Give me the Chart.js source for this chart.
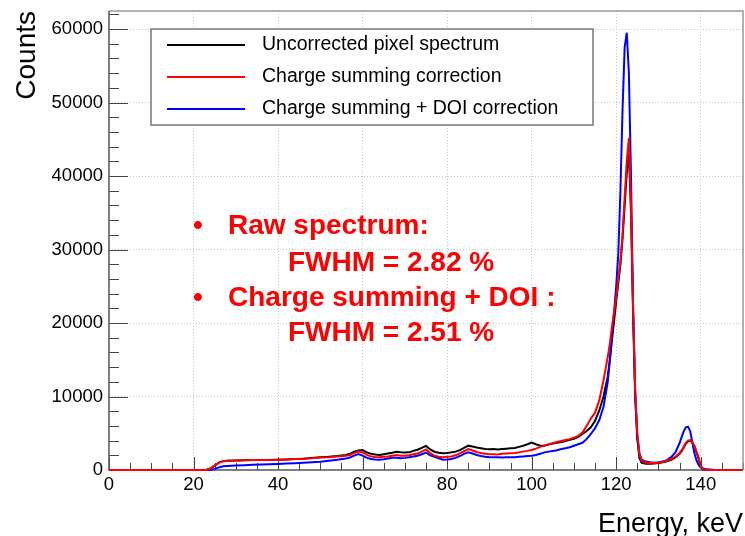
<!DOCTYPE html>
<html>
<head>
<meta charset="utf-8">
<script src="https://cdn.jsdelivr.net/npm/chart.js@4.4.1/dist/chart.umd.min.js"></script>
<style>
  html, body { margin: 0; padding: 0; background: #fff; }
  #wrap { width: 745px; height: 536px; }
</style>
</head>
<body>
<div id="wrap"><canvas id="spectrum" width="745" height="536"></canvas></div>
<script>
/* ---------- data ---------- */
const energy = [
  0, 23, 24, 25, 26, 27, 28, 30, 32, 34,
  36, 38, 40, 42, 44, 46, 48, 50, 52, 54,
  56,
  57, 58, 59, 60, 61, 62, 63, 64, 65, 66,
  67, 68, 69, 70, 71, 72, 73, 74, 75, 76,
  77, 78, 79, 80, 81, 82, 83, 84, 85, 86,
  87, 88, 89, 90, 91, 92, 93, 94, 95, 96,
  97, 98, 99, 100, 101, 102, 103, 104, 105, 106,
  107, 108, 109, 110, 111, 112, 113, 114, 115, 116,
  117,
  118, 118.5, 119, 119.5, 120, 120.5, 121, 121.5, 122, 122.5,
  123, 123.5, 124, 124.5, 125, 125.5, 126,
  127, 128, 129, 130, 131, 132, 133, 134,
  135, 135.5, 136, 136.5, 137, 137.5, 138, 138.5, 139, 139.5,
  140, 140.5, 141,
  142, 143, 145, 150
];

const uncorrected = [
  0, 0, 200, 600, 1000, 1200, 1250, 1300, 1330, 1350,
  1370, 1360, 1380, 1420, 1480, 1530, 1650, 1750, 1800, 1900,
  2050,
  2200, 2500, 2650, 2720, 2400, 2200, 2100, 2050, 2150, 2250,
  2350, 2480, 2400, 2380, 2400, 2600, 2750, 3000, 3270, 2800,
  2490, 2350, 2270, 2300, 2400, 2500, 2700, 3000, 3310, 3200,
  3050, 2950, 2850, 2820, 2850, 2800, 2850, 2900, 2950, 3000,
  3150, 3300, 3500, 3720, 3500, 3300, 3310, 3450, 3600, 3700,
  3800, 3950, 4100, 4250, 4500, 4900, 5300, 5800, 6700, 8100,
  10000,
  12700, 15000, 17700, 20300, 23000, 25500, 28000, 31500, 36000, 40500,
  43100, 35000, 21000, 10000, 4200, 1600, 1000,
  850, 850, 900, 950, 1050, 1200, 1400, 1700,
  2200, 2600, 3100, 3600, 3900, 4000, 3750, 3250, 2400, 1500,
  500, 80, 0,
  0, 0, 0, 0
];

const chargeSumming = [
  0, 0, 200, 600, 1000, 1200, 1250, 1300, 1330, 1350,
  1370, 1360, 1380, 1420, 1480, 1530, 1600, 1700, 1750, 1850,
  1950,
  2050, 2300, 2500, 2380, 2050, 1850, 1780, 1750, 1800, 1850,
  1950, 2050, 1950, 1950, 2000, 2150, 2250, 2500, 2800, 2300,
  1950, 1800, 1730, 1800, 1850, 2000, 2250, 2550, 2850, 2650,
  2450, 2300, 2200, 2130, 2150, 2100, 2200, 2250, 2270, 2300,
  2400, 2500, 2600, 2720, 2900, 3150, 3350, 3500, 3650, 3800,
  3950, 4080, 4200, 4400, 4650, 5100, 6000, 7000, 7800, 9500,
  12200,
  15400, 17200, 19500, 21500, 23500, 26000, 28500, 32000, 37000, 42000,
  45200, 36000, 22000, 11000, 5000, 2200, 1300,
  1000, 950, 950, 1000, 1100, 1250, 1500, 1800,
  2300, 2700, 3200, 3700, 4000, 4080, 3800, 3300, 2500, 1700,
  600, 100, 0,
  0, 0, 0, 0
];

const chargeSummingDoi = [
  0, 0, 0, 150, 350, 500, 560, 620, 660, 700,
  740, 780, 820, 870, 920, 980, 1050, 1130, 1250, 1380,
  1550,
  1700, 1950, 2180, 1950, 1650, 1500, 1420, 1380, 1450, 1550,
  1650, 1650, 1600, 1650, 1730, 1850, 1950, 2150, 2360, 2000,
  1810, 1600, 1400, 1420, 1500, 1650, 1900, 2200, 2400, 2250,
  2050, 1900, 1800, 1730, 1750, 1720, 1700, 1720, 1730, 1750,
  1800, 1850, 1900, 1950, 2050, 2200, 2400, 2500, 2600, 2700,
  2850, 2950, 3100, 3300, 3500, 3700, 4200, 4900, 5700, 6800,
  8600,
  12000, 15000, 18600, 21500, 25000, 29500, 38000, 49000, 57500, 59500,
  54000, 40000, 22000, 10000, 4500, 2200, 1400,
  1150, 1050, 1000, 1050, 1150, 1350, 1750, 2400,
  3670, 4500, 5300, 5800, 5900, 5300, 3800, 2270, 1300, 680,
  350, 200, 150,
  80, 20, 0, 0
];

const seriesLabels = [
  "Uncorrected pixel spectrum",
  "Charge summing correction",
  "Charge summing + DOI correction"
];
const seriesColors = ["#000000", "#ff0000", "#0000ff"];

const xTickValues = [0, 20, 40, 60, 80, 100, 120, 140];
const yTickValues = [0, 10000, 20000, 30000, 40000, 50000, 60000];

const noteLines = [
  { bullet: true,  text: "Raw spectrum:" },
  { bullet: false, text: "FWHM = 2.82 %" },
  { bullet: true,  text: "Charge summing + DOI :" },
  { bullet: false, text: "FWHM = 2.51 %" }
];

/* ---------- helpers ---------- */
const FONT = "'Liberation Sans', Arial, Helvetica, sans-serif";
const toPoints = vals => energy.map((e, i) => ({ x: e, y: vals[i] }));
const hideZero = c => (c.tick && c.tick.value === 0) ? "rgba(0,0,0,0)" : "#c4c4c4";

/* ROOT style frame + inward tick marks (under the curves) */
const rootFrame = {
  id: "rootFrame",
  beforeDatasetsDraw(chart) {
    const { ctx, chartArea: a, scales: { x, y } } = chart;
    ctx.save();
    ctx.lineWidth = 1;
    ctx.strokeStyle = "#444";
    ctx.beginPath();
    for (let v = 0; v <= 150; v += 5) {
      const px = Math.round(x.getPixelForValue(v)) + 0.5;
      const len = v % 20 === 0 ? 13 : 7;
      ctx.moveTo(px, a.bottom);
      ctx.lineTo(px, a.bottom - len);
    }
    for (let v = 0; v <= 62000; v += 2000) {
      const py = Math.round(y.getPixelForValue(v)) + 0.5;
      const len = v % 10000 === 0 ? 19 : 10;
      ctx.moveTo(a.left, py);
      ctx.lineTo(a.left + len, py);
    }
    ctx.stroke();

    ctx.lineWidth = 1.5;
    ctx.strokeStyle = "#999";
    ctx.beginPath();
    ctx.moveTo(a.left, a.top);
    ctx.lineTo(a.right, a.top);
    ctx.lineTo(a.right, a.bottom);
    ctx.stroke();
    ctx.strokeStyle = "#555";
    ctx.beginPath();
    ctx.moveTo(a.left, a.top);
    ctx.lineTo(a.left, a.bottom);
    ctx.lineTo(a.right, a.bottom);
    ctx.stroke();
    ctx.restore();
  }
};

/* boxed legend inside the plot, top left */
const legendBox = {
  id: "legendBox",
  afterDatasetsDraw(chart) {
    const ctx = chart.ctx;
    const box = { left: 151, top: 29, width: 442, height: 96 };
    ctx.save();
    ctx.fillStyle = "#fff";
    ctx.fillRect(box.left, box.top, box.width, box.height);
    ctx.strokeStyle = "#777";
    ctx.lineWidth = 1.5;
    ctx.strokeRect(box.left, box.top, box.width, box.height);
    ctx.font = "19.5px " + FONT;
    ctx.textBaseline = "middle";
    chart.data.datasets.forEach((ds, i) => {
      const rowY = box.top + 16 + i * 32;
      ctx.strokeStyle = ds.borderColor;
      ctx.lineWidth = 2;
      ctx.beginPath();
      ctx.moveTo(box.left + 16, rowY);
      ctx.lineTo(box.left + 94, rowY);
      ctx.stroke();
      ctx.fillStyle = "#000";
      ctx.fillText(ds.label, box.left + 111, rowY);
    });
    ctx.restore();
  }
};

/* red FWHM notes */
const fwhmNotes = {
  id: "fwhmNotes",
  afterDraw(chart) {
    const ctx = chart.ctx;
    const baselines = [234, 271, 306, 341];
    ctx.save();
    ctx.fillStyle = "#ff0000";
    ctx.font = "bold 28px " + FONT;
    ctx.textBaseline = "alphabetic";
    noteLines.forEach((ln, i) => {
      if (ln.bullet) {
        ctx.fillText("\u2022", 193, baselines[i]);
        ctx.fillText(ln.text, 228, baselines[i]);
      } else {
        ctx.fillText(ln.text, 288, baselines[i]);
      }
    });
    ctx.restore();
  }
};

/* ---------- chart ---------- */
new Chart(document.getElementById("spectrum"), {
  type: "line",
  data: {
    datasets: [
      { label: seriesLabels[0], data: toPoints(uncorrected), borderColor: seriesColors[0], order: 3 },
      { label: seriesLabels[1], data: toPoints(chargeSumming), borderColor: seriesColors[1], order: 1 },
      { label: seriesLabels[2], data: toPoints(chargeSummingDoi), borderColor: seriesColors[2], order: 2 }
    ]
  },
  options: {
    responsive: false,
    animation: false,
    layout: { padding: { top: 11, right: 2, left: 0, bottom: 0 } },
    elements: {
      point: { radius: 0 },
      line: { borderWidth: 2, tension: 0, fill: false }
    },
    datasets: { line: { clip: 3 } },
    plugins: {
      legend: { display: false },
      tooltip: { enabled: false }
    },
    scales: {
      x: {
        type: "linear",
        min: 0,
        max: 150,
        afterBuildTicks: s => { s.ticks = xTickValues.map(v => ({ value: v })); },
        afterFit: s => { s.height = 66; s.paddingLeft = 0; s.paddingRight = 0; },
        ticks: {
          font: { family: FONT, size: 18.5 },
          color: "#000",
          padding: 4,
          maxRotation: 0,
          autoSkip: false,
          callback: v => String(v)
        },
        grid: { drawTicks: false, color: hideZero, lineWidth: 1 },
        border: { display: false, dash: [1, 2] },
        title: {
          display: true,
          text: "Energy, keV",
          align: "end",
          color: "#000",
          font: { family: FONT, size: 27 },
          padding: { top: 0, bottom: -5 }
        }
      },
      y: {
        type: "linear",
        min: 0,
        max: 62450,
        afterBuildTicks: s => { s.ticks = yTickValues.map(v => ({ value: v })); },
        afterFit: s => { s.width = 109; s.paddingTop = 0; s.paddingBottom = 0; },
        ticks: {
          font: { family: FONT, size: 18.5 },
          color: "#000",
          padding: 6,
          autoSkip: false,
          callback: v => String(v)
        },
        grid: { drawTicks: false, color: hideZero, lineWidth: 1 },
        border: { display: false, dash: [1, 2] },
        title: {
          display: true,
          text: "Counts",
          align: "end",
          color: "#000",
          font: { family: FONT, size: 28 },
          padding: { top: 10, bottom: 0 }
        }
      }
    }
  },
  plugins: [rootFrame, legendBox, fwhmNotes]
});
</script>
</body>
</html>
